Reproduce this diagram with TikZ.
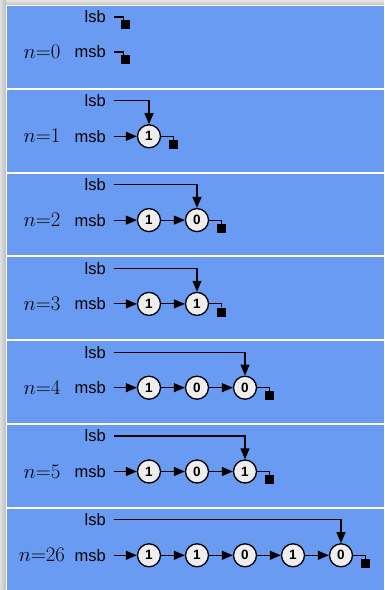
\documentclass[tikz,border=0pt]{standalone}
\usepackage[no-math]{fontspec}
\newfontfamily\labfont{Liberation Sans}
\usetikzlibrary{arrows.meta,calc}
\definecolor{panelblue}{RGB}{106,155,242}
\definecolor{bitfill}{RGB}{238,238,238}
\tikzset{
  lbl/.style={anchor=east,inner sep=0pt,font=\labfont\fontsize{16.5}{18}\selectfont},
  nlab/.style={inner sep=0pt,font=\fontsize{22}{24}\selectfont},
  bit/.style={circle,draw=black,line width=1.3pt,fill=bitfill,minimum size=23pt,inner sep=0pt,font=\labfont\bfseries\fontsize{13.5}{14}\selectfont},
  arr/.style={line width=1.1pt,-{Triangle[length=11pt,width=9pt]}},
  wire/.style={line width=1.1pt},
  sq/.style={fill=black,minimum size=9pt,inner sep=0pt,anchor=north},
}
\begin{document}
\begin{tikzpicture}[x=1pt,y=-1pt]
\useasboundingbox (0,0) rectangle (384,590);
\fill[white] (0,0) rectangle (384,590);
\shade[top color=gray!20,bottom color=gray!45] (0,0) rectangle (384,4.5);
\shade[left color=gray!25,right color=gray!50] (0,0) rectangle (5.5,590);
% panels
\foreach \i in {0,...,5}{
  \pgfmathsetmacro\ty{6+83.8*\i}
  \fill[panelblue] (7,\ty) rectangle (384,\ty+81.8);
}
\fill[panelblue] (7,6+83.8*6) rectangle (384,590);
% panel n=0
\node[lbl] (lsb0) at (106,17) {lsb};
\node[lbl] (msb0) at (106,52) {msb};
\node[nlab] (n0) at (42,52) {$n{=}0$};
\node[sq] (sl0) at ($(lsb0.east)+(19.5,3)$) {};
\node[sq] (sm0) at ($(msb0.east)+(19.5,3)$) {};
\draw[wire] ([xshift=8pt]lsb0.east) -| ([xshift=-2pt]sl0.north);
\draw[wire] ([xshift=8pt]msb0.east) -| ([xshift=-2pt]sm0.north);
% panels with bits
\foreach \i/\n/\bits/\k in {1/1/{1}/1, 2/2/{1,0}/2, 3/3/{1,1}/2, 4/4/{1,0,0}/3, 5/5/{1,0,1}/3, 6/26/{1,1,0,1,0}/5}{
  \pgfmathsetmacro\ty{6+83.8*\i}
  \node[lbl] (lsb\i) at (106,\ty+11) {lsb};
  \node[lbl] (msb\i) at (106,\ty+46.5) {msb};
  \node[nlab] (n\i) at (42,\ty+46.5) {$n{=}\n$};
  \foreach \b [count=\j] in \bits {
    \node[bit] (b\i-\j) at ({149+48*(\j-1)},\ty+46.5) {\b};
  }
  \foreach \b [count=\j] in \bits {
    \ifnum\j>1
      \pgfmathtruncatemacro\jp{\j-1}
      \draw[arr] (b\i-\jp) -- (b\i-\j);
    \fi
  }
  \draw[arr] ([xshift=8pt]msb\i.east) -- (b\i-1);
  \draw[arr] ([xshift=8pt]lsb\i.east) -| (b\i-\k);
  \node[sq] (s\i) at ($(b\i-\k.east)+(12,3.5)$) {};
  \draw[wire] (b\i-\k.east) -| (s\i.north);
}
\end{tikzpicture}
\end{document}
